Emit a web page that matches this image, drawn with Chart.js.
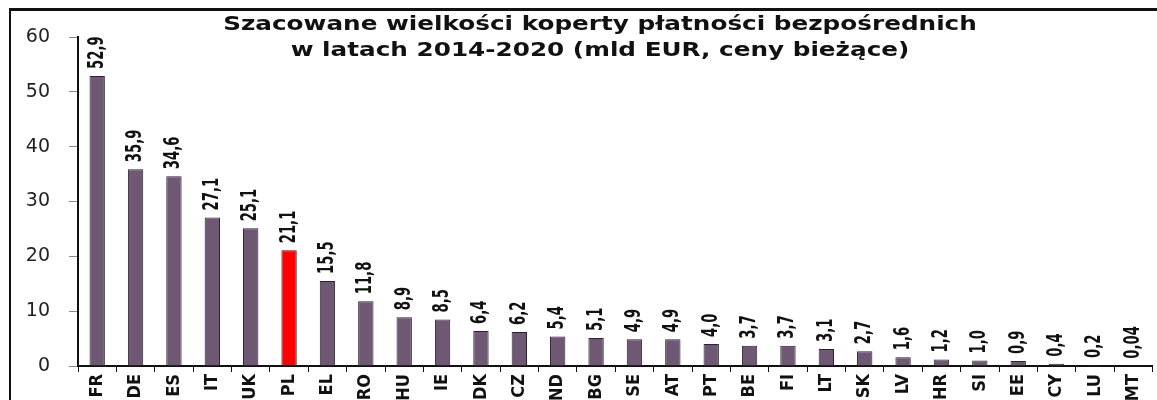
<!DOCTYPE html>
<html>
<head>
<meta charset="utf-8">
<script src="https://cdn.jsdelivr.net/npm/chart.js@4"></script>
<style>
  body { margin: 0; background: #fff; }
  #wrap { position: relative; width: 1157px; height: 400px; }
  #frame { position: absolute; left: 9px; top: 8px; right: 0; bottom: 0;
           border-top: 3px solid #111; border-left: 2px solid #111; }
  canvas { position: absolute; left: 0; top: 0; }
</style>
</head>
<body>
<div id="wrap">
  <div id="frame"></div>
  <canvas id="chart" width="1157" height="400"></canvas>
</div>
<script>
const countries = ['FR', 'DE', 'ES', 'IT', 'UK', 'PL', 'EL', 'RO', 'HU', 'IE', 'DK', 'CZ', 'ND', 'BG',
    'SE', 'AT', 'PT', 'BE', 'FI', 'LT', 'SK', 'LV', 'HR', 'SI', 'EE', 'CY', 'LU', 'MT'];
const envelope = [52.9, 35.9, 34.6, 27.1, 25.1, 21.1, 15.5, 11.8, 8.9, 8.5, 6.4, 6.2, 5.4, 5.1,
    4.9, 4.9, 4.0, 3.7, 3.7, 3.1, 2.7, 1.6, 1.2, 1.0, 0.9, 0.4, 0.2, 0.04];
const titleLines = ['Szacowane wielkości koperty płatności bezpośrednich',
    'w latach 2014-2020 (mld EUR, ceny bieżące)'];

const condensed = "'DejaVu Sans Condensed', 'DejaVu Sans', sans-serif";

// PL highlighted in red
const barColors = countries.map(c => c === 'PL' ? '#ff0000' : '#6e5874');

function formatValue(v) {
    return v.toFixed(v < 0.1 ? 2 : 1).replace('.', ',');
}

// rotated value labels above each bar (squeezed, tall narrow look)
const valueLabels = {
    id: 'valueLabels',
    afterDatasetsDraw(chart) {
        const ctx = chart.ctx;
        const meta = chart.getDatasetMeta(0);
        ctx.save();
        ctx.fillStyle = '#111';
        ctx.font = 'bold 21px ' + condensed;
        ctx.textAlign = 'left';
        ctx.textBaseline = 'middle';
        meta.data.forEach((bar, i) => {
            ctx.save();
            ctx.translate(bar.x, bar.y - 7);
            ctx.rotate(-Math.PI / 2);
            ctx.scale(0.7, 1);
            ctx.fillText(formatValue(envelope[i]), 0, 0);
            ctx.restore();
        });
        ctx.restore();
    }
};

// two line title drawn over the top of the plot, stretched wide like the scan
const titleText = {
    id: 'titleText',
    afterDraw(chart) {
        const ctx = chart.ctx;
        ctx.save();
        ctx.fillStyle = '#111';
        ctx.font = "bold 19px 'DejaVu Sans', Verdana, sans-serif";
        ctx.textAlign = 'center';
        ctx.textBaseline = 'alphabetic';
        ctx.translate(600, 0);
        ctx.scale(1.3, 1);
        ctx.fillText(titleLines[0], 0, 30);
        ctx.fillText(titleLines[1], 0, 56);
        ctx.restore();
    }
};

new Chart(document.getElementById('chart'), {
    type: 'bar',
    data: {
        labels: countries,
        datasets: [{
            data: envelope,
            backgroundColor: barColors,
            borderColor: '#2a222c',
            borderWidth: 1,
            barPercentage: 0.4,
            categoryPercentage: 1.0
        }]
    },
    options: {
        responsive: false,
        animation: false,
        layout: { padding: { top: 37, right: 3, left: 0, bottom: 0 } },
        plugins: {
            legend: { display: false },
            tooltip: { enabled: false }
        },
        scales: {
            x: {
                afterFit(scale) { scale.height = 34; },
                border: { color: '#111', width: 2 },
                grid: { drawOnChartArea: false, color: '#111', tickLength: 6, offset: true },
                ticks: {
                    color: '#111',
                    minRotation: 90,
                    maxRotation: 90,
                    autoSkip: false,
                    padding: 2,
                    font: { family: condensed, size: 18, weight: 'bold' }
                }
            },
            y: {
                min: 0,
                max: 60,
                afterFit(scale) { scale.width = 78; },
                border: { color: '#111', width: 2 },
                grid: { drawOnChartArea: false, color: '#888', tickLength: 9 },
                ticks: {
                    stepSize: 10,
                    color: '#222',
                    padding: 19,
                    font: { family: "'DejaVu Sans', Verdana, sans-serif", size: 19 }
                }
            }
        }
    },
    plugins: [valueLabels, titleText]
});
</script>
</body>
</html>
